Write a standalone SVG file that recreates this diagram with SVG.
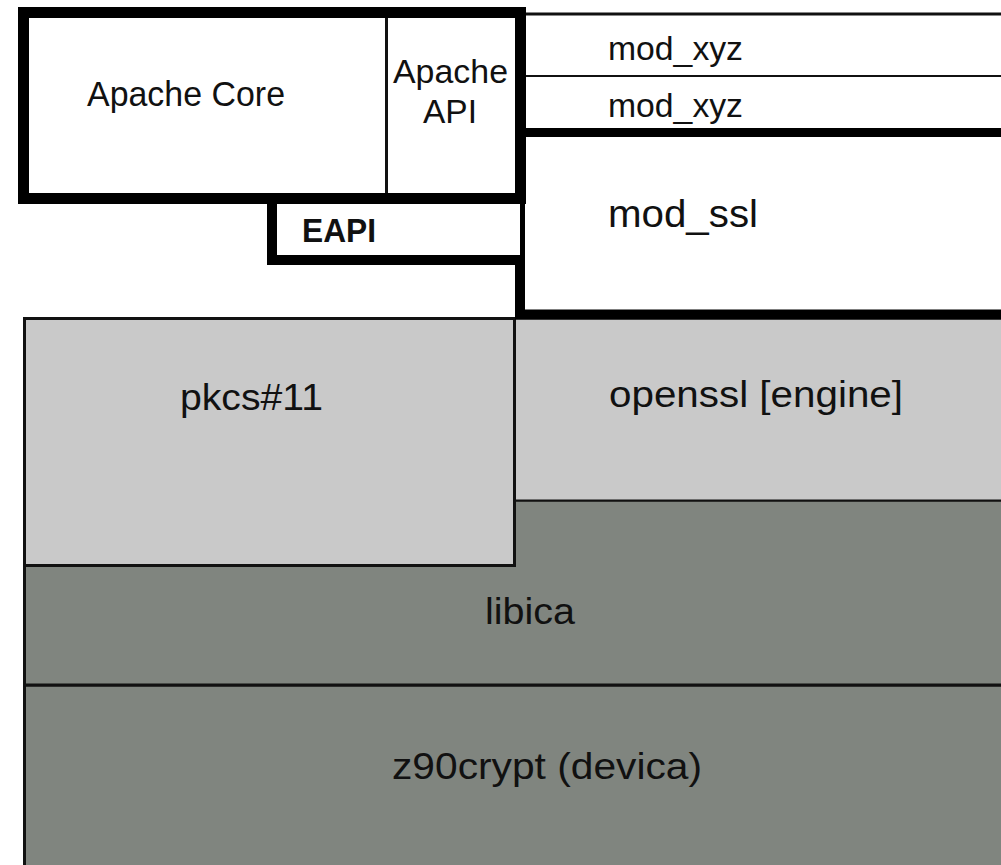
<svg xmlns="http://www.w3.org/2000/svg" width="1001" height="865" viewBox="0 0 1001 865">
<style>
text{font-family:"Liberation Sans",Arial,sans-serif;fill:#111;}
.light{fill:#c9c9c9;stroke:#111;stroke-width:3;}
.dark{fill:#80857f;stroke:#111;stroke-width:3;}
.thick{fill:none;stroke:#000;stroke-width:10;}
.thin{fill:none;stroke:#111;}
</style>
<rect width="1001" height="865" fill="#fff"/>
<g id="z90crypt">
<rect class="dark" x="24.5" y="685" width="990" height="190"/>
<text x="392" y="779" font-size="36" textLength="310" lengthAdjust="spacingAndGlyphs">z90crypt (devica)</text>
</g>
<g id="libica">
<rect class="dark" x="24.5" y="500" width="990" height="185"/>
<text x="485" y="624" font-size="37" textLength="90" lengthAdjust="spacingAndGlyphs">libica</text>
</g>
<g id="openssl">
<rect class="light" x="515" y="318.5" width="500" height="182" style="stroke-width:2"/>
<text x="609" y="407" font-size="36" textLength="294" lengthAdjust="spacingAndGlyphs">openssl [engine]</text>
</g>
<g id="pkcs11">
<rect class="light" x="24.5" y="318.5" width="490" height="247"/>
<text x="180" y="410" font-size="37" textLength="143" lengthAdjust="spacingAndGlyphs">pkcs#11</text>
</g>
<g id="mod_ssl">
<path class="thick" d="M520,132.5 V314.5 H1010"/>
<path class="thick" d="M515,132.5 H1010" style="stroke-width:9"/>
<text x="608" y="227" font-size="39" textLength="150" lengthAdjust="spacingAndGlyphs">mod_ssl</text>
</g>
<g id="mod_xyz_1">
<path class="thin" d="M520,14 H1010" style="stroke-width:3"/>
<text x="608" y="60" font-size="34" textLength="135" lengthAdjust="spacingAndGlyphs">mod_xyz</text>
</g>
<g id="mod_xyz_2">
<path class="thin" d="M520,76 H1010" style="stroke-width:2"/>
<text x="608" y="117" font-size="34" textLength="135" lengthAdjust="spacingAndGlyphs">mod_xyz</text>
</g>
<g id="eapi">
<rect x="272" y="198" width="248" height="62" fill="#fff"/>
<path class="thick" d="M272,198 V260 H525"/>
<text x="302" y="242" font-size="33" font-weight="bold" textLength="74" lengthAdjust="spacingAndGlyphs">EAPI</text>
</g>
<g id="apache_core">
<rect x="23.5" y="12.5" width="497" height="186" fill="#fff" stroke="#000" stroke-width="11"/>
<text x="87" y="106" font-size="35" textLength="198" lengthAdjust="spacingAndGlyphs">Apache Core</text>
</g>
<g id="apache_api">
<path class="thin" d="M386.5,18 V193" style="stroke-width:3"/>
<text x="393" y="83" font-size="34" textLength="115" lengthAdjust="spacingAndGlyphs">Apache</text>
<text x="423" y="123" font-size="34" textLength="54" lengthAdjust="spacingAndGlyphs">API</text>
</g>
<path d="M520,7 V140" stroke="#000" stroke-width="10"/>
</svg>
